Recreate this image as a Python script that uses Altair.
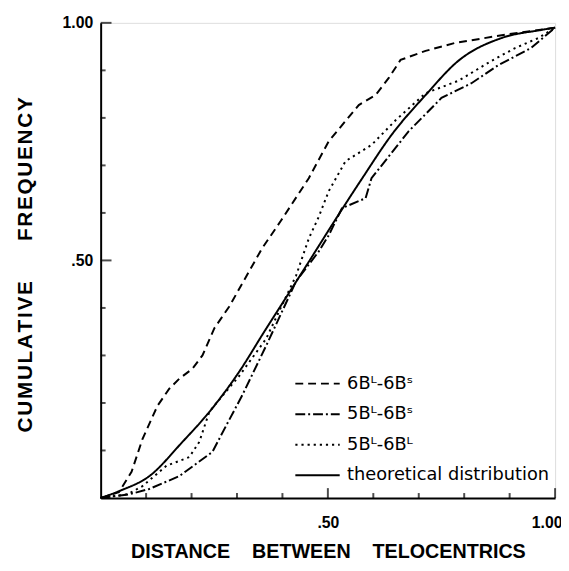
import altair as alt
import pandas as pd

NB = "\u00a0"
HS = "\u200a"

series_names = ["6B\u1d38-6B\u02e2", "5B\u1d38-6B\u02e2", "5B\u1d38-6B\u1d38", "theoretical distribution"]

x_6L6S = [0, 0.04, 0.068, 0.092, 0.125, 0.151, 0.173, 0.202, 0.224, 0.25, 0.283, 0.355, 0.397, 0.458, 0.502, 0.568, 0.605, 0.634, 0.66, 0.715, 0.781, 0.89, 1.0]
y_6L6S = [0, 0.012, 0.055, 0.124, 0.194, 0.23, 0.251, 0.272, 0.30, 0.357, 0.403, 0.525, 0.584, 0.673, 0.751, 0.827, 0.848, 0.884, 0.922, 0.941, 0.958, 0.975, 0.99]

x_5L6S = [0, 0.064, 0.107, 0.173, 0.246, 0.276, 0.311, 0.364, 0.43, 0.48, 0.502, 0.531, 0.546, 0.583, 0.596, 0.678, 0.75, 0.816, 0.875, 0.947, 1.0]
y_5L6S = [0, 0.008, 0.019, 0.046, 0.097, 0.152, 0.215, 0.32, 0.456, 0.519, 0.553, 0.61, 0.616, 0.631, 0.673, 0.772, 0.842, 0.873, 0.911, 0.947, 0.99]

x_5L6L = [0, 0.06, 0.092, 0.145, 0.195, 0.217, 0.239, 0.268, 0.305, 0.364, 0.43, 0.458, 0.48, 0.502, 0.539, 0.596, 0.649, 0.715, 0.787, 0.86, 0.912, 0.963, 1.0]
y_5L6L = [0, 0.008, 0.025, 0.068, 0.086, 0.118, 0.181, 0.215, 0.257, 0.335, 0.468, 0.546, 0.592, 0.646, 0.709, 0.743, 0.795, 0.852, 0.878, 0.92, 0.947, 0.968, 0.99]

x_theo = [0, 0.042, 0.107, 0.18, 0.239, 0.305, 0.36, 0.40, 0.452, 0.518, 0.575, 0.64, 0.715, 0.787, 0.882, 0.969, 1.0]
y_theo = [0, 0.015, 0.046, 0.118, 0.181, 0.266, 0.35, 0.41, 0.488, 0.588, 0.672, 0.764, 0.848, 0.92, 0.968, 0.985, 0.99]

x_minor_ticks = [0.1, 0.2, 0.3, 0.4, 0.6, 0.7, 0.8, 0.9]
x_major_ticks = [0.5, 1.0]
y_minor_ticks = [0.1, 0.2, 0.3, 0.4, 0.6, 0.7, 0.8, 0.9]
y_major_ticks = [0.5, 1.0]

rows = []
for name, xs, ys in zip(series_names, [x_6L6S, x_5L6S, x_5L6L, x_theo], [y_6L6S, y_5L6S, y_5L6L, y_theo]):
    for i, (xv, yv) in enumerate(zip(xs, ys)):
        rows.append({"series": name, "x": xv, "y": yv, "order": i})
df = pd.DataFrame(rows)
df_obs = df[df["series"] != series_names[3]]
df_theo = df[df["series"] == series_names[3]]

W, H = 461, 482
xscale = alt.Scale(domain=[0, 1], nice=False, zero=True)
yscale = alt.Scale(domain=[0, 1], nice=False, zero=True)
label_expr = "datum.value < 1 ? substring(format(datum.value, '.2f'), 1) : format(datum.value, '.2f')"

x_title = "DISTANCE" + NB * 4 + "BETWEEN" + NB * 4 + "TELOCENTRICS"
y_title = HS.join("CUMULATIVE") + NB * 7 + HS.join("FREQUENCY")

x_axis = alt.Axis(
    orient="bottom", values=x_major_ticks, labelExpr=label_expr, ticks=False, tickSize=0,
    labelPadding=17, labelFontSize=16, labelFontWeight="bold",
    labelFlush=True, labelFlushOffset=7,
    domain=True, domainColor="black", domainWidth=2,
    grid=False, title=x_title, titleFontSize=20, titleFontWeight="bold",
    titleBaseline="alphabetic", titleY=60, titleX=W / 2)
y_axis = alt.Axis(
    orient="left", values=y_major_ticks, labelExpr=label_expr, ticks=False, tickSize=0,
    labelPadding=8, labelFontSize=16, labelFontWeight="bold", labelBaseline="middle",
    labelFlush=False, domain=True, domainColor="black",
    domainWidth=2, grid=False, title=y_title, titleFontSize=21, titleFontWeight="bold",
    titleX=-76, titleY=245, titleBaseline="middle", titleAlign="center", titleAngle=270)

legend = alt.Legend(orient="none", legendX=210, legendY=356, title=None,
                    symbolType="M-2.5,0L2.5,0", symbolSize=324, symbolStrokeWidth=2,
                    symbolStrokeColor="black", symbolFillColor="transparent",
                    labelFontSize=18, labelOffset=20, rowPadding=12, padding=0,
                    labelLimit=400, labelColor="black", labelFont="DejaVu Sans")
dash_scale = alt.Scale(domain=series_names, range=[[8, 5], [10, 3, 2, 3], [2.2, 4], [1, 0]])

obs_lines = alt.Chart(df_obs).mark_line(strokeWidth=2, color="black", strokeCap="butt").encode(
    x=alt.X("x:Q", scale=xscale, axis=x_axis),
    y=alt.Y("y:Q", scale=yscale, axis=y_axis),
    strokeDash=alt.StrokeDash("series:N", scale=dash_scale, legend=legend),
    order="order:Q",
)

theo_line = alt.Chart(df_theo).mark_line(strokeWidth=2, color="black", interpolate="monotone").encode(
    x=alt.X("x:Q", scale=xscale, axis=x_axis),
    y=alt.Y("y:Q", scale=yscale, axis=y_axis),
    strokeDash=alt.StrokeDash("series:N", scale=dash_scale, legend=legend),
    order="order:Q",
)

# inward-pointing axis ticks (minor every 0.1, longer at .50 and 1.00)
xt_minor = alt.Chart(pd.DataFrame({"xt": x_minor_ticks})).mark_tick(
    color="black", thickness=2, size=5, orient="vertical").encode(
    x=alt.X("xt:Q", scale=xscale, axis=x_axis), y=alt.value(H - 2.5))
xt_major = alt.Chart(pd.DataFrame({"xT": x_major_ticks})).mark_tick(
    color="black", thickness=2, size=10, orient="vertical").encode(
    x=alt.X("xT:Q", scale=xscale, axis=x_axis), y=alt.value(H - 5))
yt_minor = alt.Chart(pd.DataFrame({"yt": y_minor_ticks})).mark_tick(
    color="black", thickness=2, size=5, orient="horizontal").encode(
    y=alt.Y("yt:Q", scale=yscale, axis=y_axis), x=alt.value(2.5))
yt_major = alt.Chart(pd.DataFrame({"yT": y_major_ticks})).mark_tick(
    color="black", thickness=2, size=11, orient="horizontal").encode(
    y=alt.Y("yT:Q", scale=yscale, axis=y_axis), x=alt.value(5.5))

chart = alt.layer(
    xt_minor, xt_major, yt_minor, yt_major, obs_lines, theo_line,
).properties(
    width=W, height=H,
    autosize=alt.AutoSizeParams(type="none"),
    padding={"left": 94, "top": 11, "right": 6, "bottom": 70},
).configure_view(stroke=None).configure_axis(
    labelFont="DejaVu Sans", titleFont="DejaVu Sans", labelColor="black", titleColor="black"
).configure(background="white")

chart.save("out.html", embed_options={"renderer": "svg", "actions": False})
